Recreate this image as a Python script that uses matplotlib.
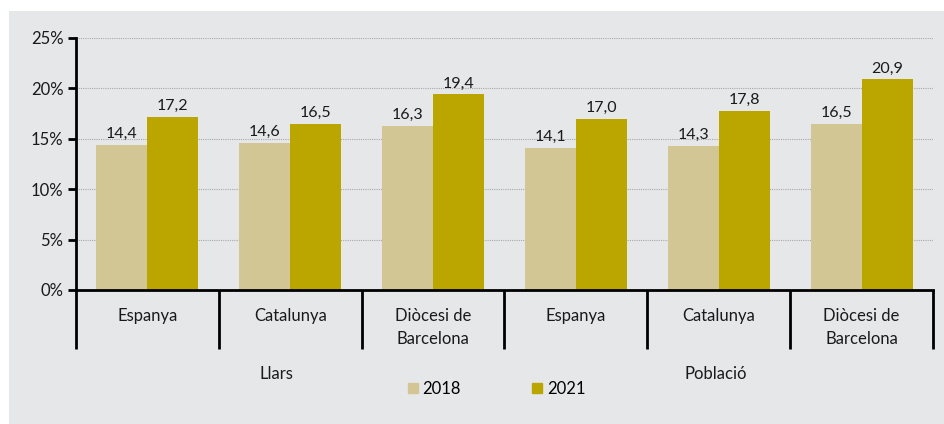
import matplotlib.pyplot as plt
import numpy as np
from matplotlib.patches import Rectangle
from matplotlib.lines import Line2D

plt.rcParams['font.family'] = ['Lato', 'DejaVu Sans']

categories = ['Espanya', 'Catalunya', 'Diòcesi de\nBarcelona',
              'Espanya', 'Catalunya', 'Diòcesi de\nBarcelona']
groups = ['Llars', 'Població']
years = ['2018', '2021']
values_2018 = [14.4, 14.6, 16.3, 14.1, 14.3, 16.5]
values_2021 = [17.2, 16.5, 19.4, 17.0, 17.8, 20.9]
yticks = [0, 5, 10, 15, 20, 25]

col_2018 = '#d2c794'
col_2021 = '#bba600'
bg = '#e6e7e9'
W, H = 944, 424

fig = plt.figure(figsize=(W / 100, H / 100), dpi=100, facecolor='white')
# grey panel behind everything
fig.patches.append(Rectangle((9 / W, 0), 1 - 9 / W, 1 - 11 / H, transform=fig.transFigure,
                             facecolor=bg, edgecolor='none', zorder=-10))

ax = fig.add_axes([76 / W, 134 / H, (933 - 76) / W, (290 - 38) / H])
ax.set_facecolor('none')

x = np.arange(len(categories))
bw = 0.357
ax.bar(x - bw / 2, values_2018, width=bw, color=col_2018, zorder=3)
ax.bar(x + bw / 2, values_2021, width=bw, color=col_2021, zorder=3)

# value labels
for xi, v in zip(x, values_2018):
    ax.text(xi - bw / 2, v + 0.35, f'{v:.1f}'.replace('.', ','), ha='center', va='bottom',
            fontsize=11.5, color='#1a1a1a')
for xi, v in zip(x, values_2021):
    ax.text(xi + bw / 2, v + 0.35, f'{v:.1f}'.replace('.', ','), ha='center', va='bottom',
            fontsize=11.5, color='#1a1a1a')

ax.set_xlim(-0.5, len(categories) - 0.5)
ax.set_ylim(0, 25)

# dotted grid
for t in yticks[1:]:
    ax.axhline(t, color='#a8a8a8', linestyle=(0, (1, 1)), linewidth=0.8, zorder=1)

for s in ['top', 'right']:
    ax.spines[s].set_visible(False)
ax.spines['left'].set_linewidth(2)
ax.spines['bottom'].set_linewidth(2)
ax.spines['left'].set_zorder(5)
ax.spines['bottom'].set_zorder(5)

ax.set_yticks(yticks)
ax.set_yticklabels([f'{t}%' for t in yticks], fontsize=12, color='#1a1a1a')
ax.tick_params(axis='y', length=6, width=2, pad=3)
ax.set_xticks([])

# category separators below the axis
for b in np.arange(-0.5, len(categories), 1.0):
    ax.plot([b, b], [0, -5.9], color='black', linewidth=2, clip_on=False, zorder=5,
            solid_capstyle='butt')

# category labels
for xi, c in zip(x, categories):
    ax.text(xi, -1.8, c, ha='center', va='top', fontsize=12, linespacing=1.55,
            color='#1a1a1a')

# group labels
ax.text(1.0 - 0.1, -8.3, groups[0], ha='center', va='center', fontsize=12, color='#1a1a1a')
ax.text(4.0 - 0.02, -8.3, groups[1], ha='center', va='center', fontsize=12, color='#1a1a1a')

handles = [Line2D([], [], marker='s', linestyle='none', markersize=7, color=col_2018),
           Line2D([], [], marker='s', linestyle='none', markersize=7, color=col_2021)]
fig.legend(handles, years, loc='center', bbox_to_anchor=(497 / W, 1 - 389 / H), ncol=2,
           frameon=False, fontsize=12, handlelength=0.5, handletextpad=0.35,
           columnspacing=4.3)

fig.savefig('out.png', dpi=100, facecolor='white')
